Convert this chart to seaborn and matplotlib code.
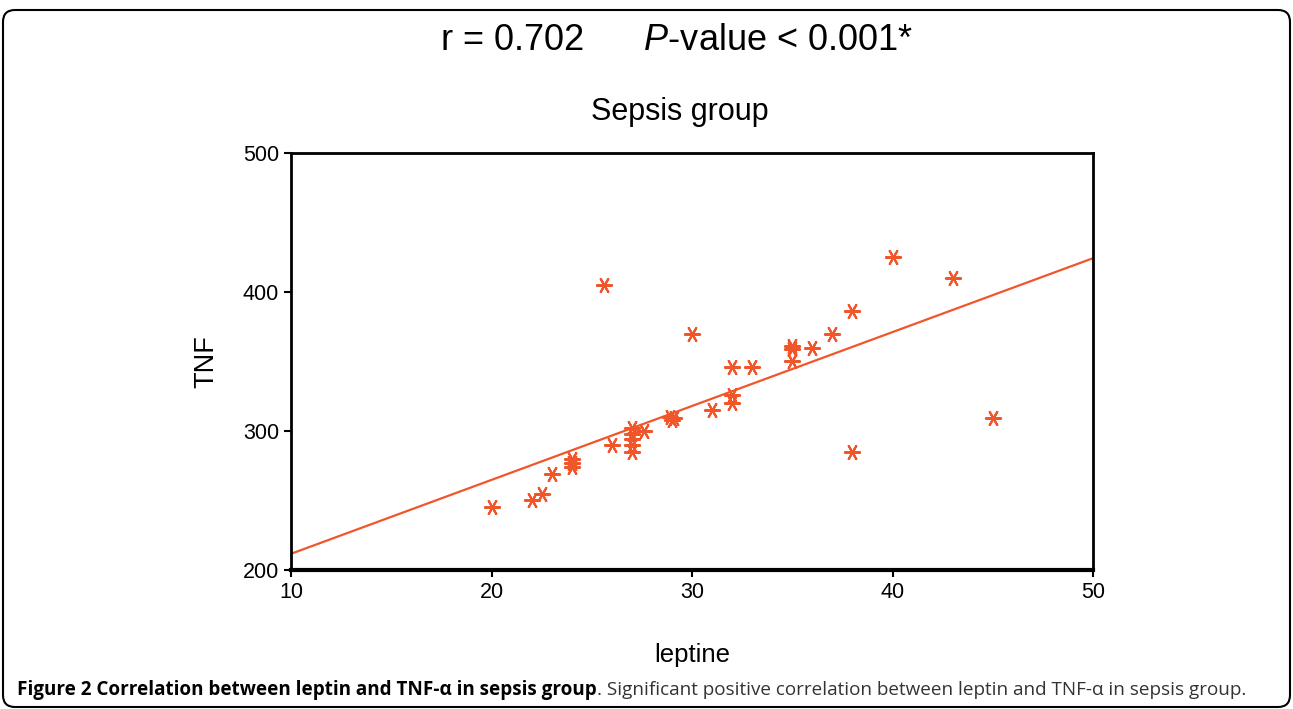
import matplotlib
matplotlib.use("Agg")
import matplotlib.pyplot as plt
import seaborn as sns
import pandas as pd
from matplotlib.patches import FancyBboxPatch

# Data
leptine = [20, 22, 22.5, 23, 24, 24, 24, 25.6, 26, 27, 27, 27, 27, 27, 27.6,
           28.9, 29, 29.1, 30, 31, 32, 32, 32, 33, 35, 35, 35, 36, 37, 38, 38,
           40, 43, 45]
tnf = [245, 250, 255, 269, 280, 277, 274, 405, 290, 302, 298, 294, 290, 285, 300,
       310, 308, 309, 370, 315, 346, 326, 320, 346, 361, 359, 350, 360, 370, 386, 285,
       425, 410, 309]
x_ticks = [10, 20, 30, 40, 50]
y_ticks = [200, 300, 400, 500]
title_text = "Sepsis group"
x_label = "leptine"
y_label = "TNF"

df = pd.DataFrame({"leptine": leptine, "TNF": tnf})

sns.set_theme(style="white")
plt.rcParams["font.family"] = ["Liberation Sans", "DejaVu Sans"]
plt.rcParams["mathtext.fontset"] = "custom"
plt.rcParams["mathtext.rm"] = "Liberation Sans"
plt.rcParams["mathtext.it"] = "Liberation Sans:italic"
plt.rcParams["text.color"] = "black"
plt.rcParams["axes.labelcolor"] = "black"

color = "#F0562A"

fig = plt.figure(figsize=(12.93, 7.09), dpi=100)
ax = fig.add_axes([291/1293, 1 - 570/709, (1093-291)/1293, (570-153)/709])
ax.set_xlim(10, 50)
ax.set_ylim(200, 500)

sns.regplot(data=df, x="leptine", y="TNF", ax=ax, ci=None, truncate=False,
            marker=(6, 2, 30), color=color,
            scatter_kws={"s": 120, "linewidths": 1.5, "color": color, "alpha": 1},
            line_kws={"lw": 1.6, "color": color})

ax.set_xlim(10, 50)
ax.set_ylim(200, 500)
ax.set_xticks(x_ticks)
ax.set_yticks(y_ticks)
ax.tick_params(axis="both", which="both", direction="out", length=5, width=1.5,
               labelsize=15.5, color="black", labelcolor="black", bottom=True, left=True)
for side in ["left", "top", "right"]:
    ax.spines[side].set_color("black")
    ax.spines[side].set_linewidth(2)
ax.spines["bottom"].set_color("black")
ax.spines["bottom"].set_linewidth(3)

ax.set_xlabel(x_label, fontsize=18.5, labelpad=29)
ax.set_ylabel(y_label, fontsize=19.5, labelpad=17)

fig.text(680/1293, 1 - 112/709, title_text, ha="center", va="center", fontsize=22)
fig.text(677/1293, 1 - 40/709, r"r = 0.702      $\it{P}$-value < 0.001*",
         ha="center", va="center", fontsize=26)

# caption
cap1 = fig.text(17/1293, 1 - 690/709, "Figure 2 Correlation between leptin and TNF-α in sepsis group",
                ha="left", va="center", fontsize=13.6, fontweight="bold",
                family=["Open Sans", "DejaVu Sans"], color="black")
ax.annotate(". Significant positive correlation between leptin and TNF-α in sepsis group.",
            xy=(1, 0.5), xycoords=cap1, ha="left", va="center", fontsize=13.6,
            family=["Open Sans", "DejaVu Sans"], color="#333333", annotation_clip=False)

# rounded frame
frame = FancyBboxPatch((3/100, (709-707)/100), (1290-3)/100, (707-10)/100,
                       boxstyle="round,pad=0,rounding_size=0.12",
                       transform=fig.dpi_scale_trans, fill=False,
                       edgecolor="black", linewidth=1.5)
fig.patches.append(frame)

fig.savefig("out.png", dpi=100)
